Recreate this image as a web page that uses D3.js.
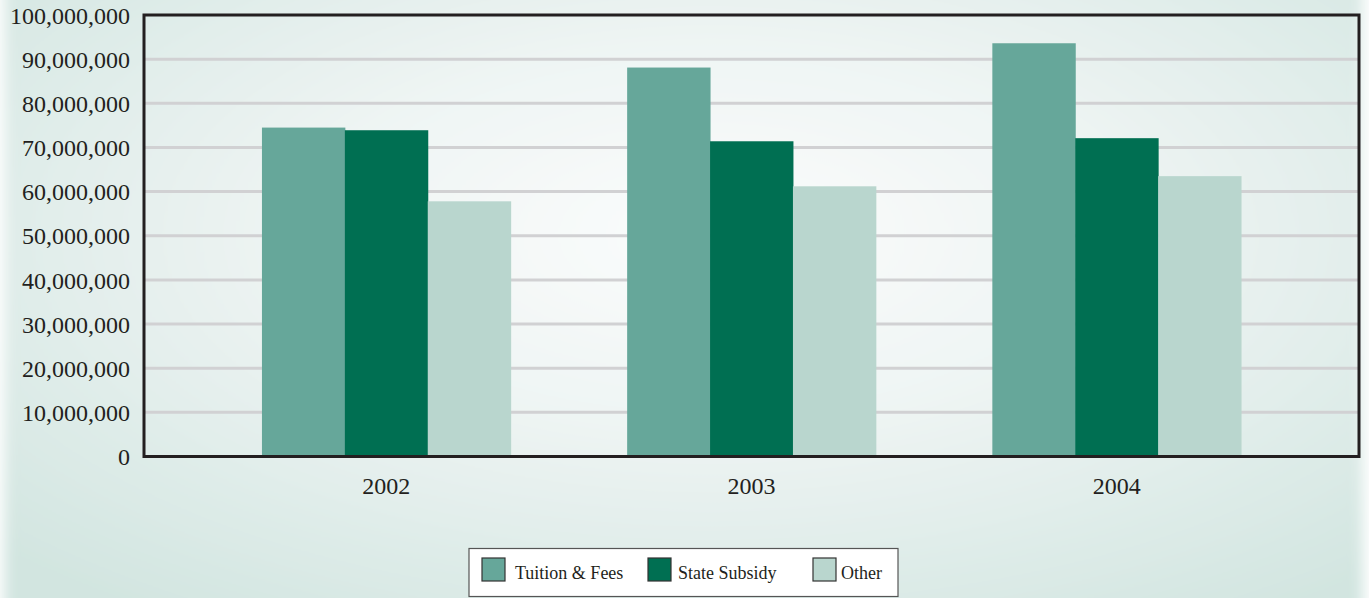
<!DOCTYPE html>
<html>
<head>
<meta charset="utf-8">
<script src="https://cdn.jsdelivr.net/npm/d3@7"></script>
<style>
  body { margin: 0; background: #fff; }
  svg { display: block; }
  text { font-family: "Liberation Serif", "DejaVu Serif", serif; fill: #231f20; }
</style>
</head>
<body>
<svg id="chart" width="1369" height="598"></svg>
<script>
// data
var years = ["2002", "2003", "2004"];
var seriesNames = ["Tuition & Fees", "State Subsidy", "Other"];
var tuition = [74.5e6, 88.1e6, 93.6e6];
var subsidy = [73.9e6, 71.4e6, 72.1e6];
var other = [57.8e6, 61.2e6, 63.5e6];
var yTicks = [0, 10e6, 20e6, 30e6, 40e6, 50e6, 60e6, 70e6, 80e6, 90e6, 100e6];

var colors = ["#66a79a", "#006f52", "#b9d6ce"];
var values = [tuition, subsidy, other];

var W = 1369, H = 598;
var plotL = 144, plotR = 1359, plotT = 15, plotB = 456.5;

var svg = d3.select("#chart");
var defs = svg.append("defs");

// background: soft radial gradient with feathered left/right edges
var grad = defs.append("radialGradient").attr("id", "bg")
    .attr("cx", "52%").attr("cy", "40%").attr("r", "72%");
grad.append("stop").attr("offset", "0%").attr("stop-color", "#fbfcfc");
grad.append("stop").attr("offset", "40%").attr("stop-color", "#eff5f4");
grad.append("stop").attr("offset", "100%").attr("stop-color", "#d2e5e0");

var blur = defs.append("filter").attr("id", "feather")
    .attr("x", "-5%").attr("y", "-5%").attr("width", "110%").attr("height", "110%");
blur.append("feGaussianBlur").attr("stdDeviation", 7);

svg.append("rect").attr("width", W).attr("height", H).attr("fill", "#fff");
svg.append("rect")
    .attr("x", 4).attr("y", -20).attr("width", W - 10).attr("height", H + 40)
    .attr("fill", "url(#bg)")
    .attr("filter", "url(#feather)");

var y = d3.scaleLinear().domain([0, 100e6]).range([plotB, plotT]);
var x0 = d3.scaleBand().domain(years).range([plotL, plotR])
    .paddingInner(0.319).paddingOuter(0.323);
var x1 = d3.scaleBand().domain(d3.range(seriesNames.length)).range([0, x0.bandwidth()]);

// gridlines
svg.append("g").selectAll("line")
    .data(yTicks.filter(function(d) { return d > 0 && d < 100e6; }))
    .enter().append("line")
    .attr("x1", plotL).attr("x2", plotR)
    .attr("y1", function(d) { return y(d); })
    .attr("y2", function(d) { return y(d); })
    .attr("stroke", "#d1d1d3")
    .attr("stroke-width", 3);

// bars
var groups = svg.append("g").selectAll("g")
    .data(years)
    .enter().append("g")
    .attr("transform", function(d) { return "translate(" + x0(d) + ",0)"; });

groups.selectAll("rect")
    .data(function(d, i) { return values.map(function(s, k) { return {k: k, v: s[i]}; }); })
    .enter().append("rect")
    .attr("x", function(d) { return x1(d.k); })
    .attr("width", x1.bandwidth() + 0.5)
    .attr("y", function(d) { return y(d.v); })
    .attr("height", function(d) { return plotB - y(d.v); })
    .attr("fill", function(d) { return colors[d.k]; });

// frame
svg.append("rect")
    .attr("x", plotL).attr("y", plotT)
    .attr("width", plotR - plotL).attr("height", plotB - plotT)
    .attr("fill", "none")
    .attr("stroke", "#231f20")
    .attr("stroke-width", 3);

// y axis labels
var fmt = d3.format(",");
svg.append("g").selectAll("text")
    .data(yTicks)
    .enter().append("text")
    .attr("x", 130)
    .attr("y", function(d) { return y(d); })
    .attr("dy", "0.36em")
    .attr("text-anchor", "end")
    .style("font-size", "24px")
    .text(function(d) { return fmt(d); });

// x axis labels
svg.append("g").selectAll("text")
    .data(years)
    .enter().append("text")
    .attr("x", function(d) { return x0(d) + x0.bandwidth() / 2; })
    .attr("y", 494)
    .attr("text-anchor", "middle")
    .style("font-size", "24px")
    .text(function(d) { return d; });

// legend
var legend = svg.append("g");
legend.append("rect")
    .attr("x", 469).attr("y", 548.5).attr("width", 429).attr("height", 48)
    .attr("fill", "#fff").attr("stroke", "#555").attr("stroke-width", 1.2);

var legendX = [482, 648, 813];
var legendTextX = [33, 30, 28];
var item = legend.selectAll("g.item")
    .data(seriesNames)
    .enter().append("g").attr("class", "item")
    .attr("transform", function(d, i) { return "translate(" + legendX[i] + ",558)"; });
item.append("rect")
    .attr("width", 23).attr("height", 23)
    .attr("fill", function(d, i) { return colors[i]; })
    .attr("stroke", "#333").attr("stroke-width", 1.2);
item.append("text")
    .attr("x", function(d, i) { return legendTextX[i]; })
    .attr("y", 21)
    .style("font-size", "18px")
    .text(function(d) { return d; });
</script>
</body>
</html>
